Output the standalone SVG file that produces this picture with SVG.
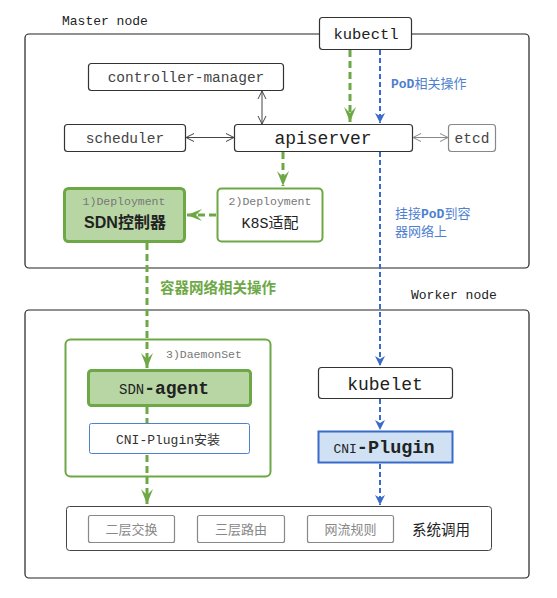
<svg xmlns="http://www.w3.org/2000/svg" width="557" height="598" viewBox="0 0 557 598">
<style>
.mono{font-family:"Liberation Mono","Noto Sans CJK SC",monospace}
.cjk{font-family:"Noto Sans CJK SC","Noto Sans",sans-serif}
.box{fill:#fff;stroke:#333;stroke-width:1.2}
.gbox{fill:#fff;stroke:#888;stroke-width:1.2}
.glabel{fill:#888;font-size:13px}
.green{stroke:#6EA846;stroke-width:3;stroke-dasharray:7 4;fill:none}
.blue{stroke:#3A6BC8;stroke-width:2;stroke-dasharray:5 3;fill:none}
.thin{stroke:#444;stroke-width:1;fill:none}
.tc{text-anchor:middle}
</style>
<defs>
<marker id="ga" markerUnits="userSpaceOnUse" viewBox="-16 -8 18 16" refX="0" refY="0" markerWidth="18" markerHeight="16" orient="auto"><path d="M0,0 L-15,-6 L-9,0 L-15,6 Z" fill="#6EA846" stroke="none"/></marker>
<marker id="ba" markerUnits="userSpaceOnUse" viewBox="-12 -7 14 14" refX="0" refY="0" markerWidth="14" markerHeight="14" orient="auto"><path d="M0,0 L-10,-5 L-7,0 L-10,5 Z" fill="#3A6BC8" stroke="none"/></marker>
<marker id="oa" markerUnits="userSpaceOnUse" viewBox="-10 -6 12 12" refX="0" refY="0" markerWidth="12" markerHeight="12" orient="auto-start-reverse"><path d="M-8,-4 L0,0 L-8,4" fill="none" stroke="#444" stroke-width="1"/></marker>
<marker id="oag" markerUnits="userSpaceOnUse" viewBox="-10 -6 12 12" refX="0" refY="0" markerWidth="12" markerHeight="12" orient="auto-start-reverse"><path d="M-8,-4 L0,0 L-8,4" fill="none" stroke="#888" stroke-width="1"/></marker>
</defs>

<g id="master-node">
<rect x="25" y="34" width="504" height="234" rx="4" fill="#fff" stroke="#222" stroke-width="1.2"/>
<text class="mono" x="62" y="25" font-size="13" fill="#222">Master node</text>
</g>
<g id="worker-node">
<rect x="25" y="310" width="504" height="268" rx="4" fill="#fff" stroke="#222" stroke-width="1.2"/>
<text class="mono" x="411" y="299" font-size="13" fill="#222">Worker node</text>
</g>

<g id="kubectl">
<rect class="box" x="319.5" y="17.5" width="92" height="32" rx="3"/>
<text class="mono tc" x="366" y="39" font-size="15.5" fill="#222">kubectl</text>
</g>
<g id="controller-manager">
<rect class="box" x="88.5" y="63.5" width="195" height="27" rx="3"/>
<text class="mono tc" x="186" y="81.5" font-size="14.5" fill="#444">controller-manager</text>
</g>
<g id="scheduler">
<rect class="box" x="64.5" y="124.5" width="121" height="27" rx="3"/>
<text class="mono tc" x="125" y="142.5" font-size="14.5" fill="#444">scheduler</text>
</g>
<g id="apiserver">
<rect class="box" x="234.5" y="124.5" width="178" height="27" rx="3"/>
<text class="mono tc" x="323" y="143.5" font-size="18" fill="#222">apiserver</text>
</g>
<g id="etcd">
<rect class="gbox" x="448.5" y="124.5" width="47" height="27" rx="3" stroke="#666"/>
<text class="mono tc" x="472" y="142.5" font-size="14.5" fill="#444">etcd</text>
</g>

<g id="sdn-controller">
<rect x="64.5" y="188.5" width="120" height="53" rx="4" fill="#B8D6A4" stroke="#6EA846" stroke-width="3"/>
<text class="mono tc" x="124" y="205" font-size="11.5" fill="#777">1)Deployment</text>
<text class="tc" x="125" y="228" font-size="16" font-weight="bold" fill="#222" font-family="Liberation Sans,Noto Sans CJK SC,sans-serif">SDN控制器</text>
</g>
<g id="k8s-adapter">
<rect x="217.5" y="188.5" width="105" height="53" rx="4" fill="#fff" stroke="#6EA846" stroke-width="2"/>
<text class="mono tc" x="270" y="205" font-size="11.5" fill="#777">2)Deployment</text>
<text class="mono tc" x="270" y="228" font-size="15" fill="#222">K8S适配</text>
</g>

<g id="daemonset">
<rect x="65.5" y="339.5" width="205" height="137" rx="5" fill="#fff" stroke="#6EA846" stroke-width="2"/>
<text class="mono" x="166" y="358" font-size="11.5" fill="#777">3)DaemonSet</text>
</g>
<g id="sdn-agent">
<rect x="88.5" y="370.5" width="162" height="35" rx="3" fill="#B8D6A4" stroke="#6EA846" stroke-width="3"/>
<text class="mono tc" x="164" y="394" fill="#222"><tspan font-size="14">SDN</tspan><tspan font-size="18" font-weight="bold">-agent</tspan></text>
</g>
<g id="cni-install">
<rect x="89.5" y="423.5" width="160" height="30" rx="2" fill="#fff" stroke="#4F7FD0" stroke-width="1"/>
<text class="mono tc" x="168" y="444" font-size="13" fill="#333">CNI-Plugin安装</text>
</g>

<g id="kubelet">
<rect class="box" x="318.5" y="367.5" width="134" height="31" rx="3"/>
<text class="mono tc" x="385" y="389.5" font-size="18" fill="#222">kubelet</text>
</g>
<g id="cni-plugin">
<rect x="318.5" y="431.5" width="134" height="31" fill="#CFE1F3" stroke="#3A6BC8" stroke-width="2"/>
<text class="mono tc" x="384" y="453" fill="#222"><tspan font-size="13">CNI</tspan><tspan font-size="18.5" font-weight="bold">-Plugin</tspan></text>
</g>

<g id="system-calls">
<rect x="66.5" y="506.5" width="425" height="44" rx="3" fill="#fff" stroke="#444" stroke-width="1"/>
<rect class="gbox" x="88.5" y="515.5" width="86" height="27" rx="2"/>
<text class="cjk tc glabel" x="131.5" y="533.5">二层交换</text>
<rect class="gbox" x="197.5" y="515.5" width="87" height="27" rx="2"/>
<text class="cjk tc glabel" x="241" y="533.5">三层路由</text>
<rect class="gbox" x="307.5" y="515.5" width="86" height="27" rx="2"/>
<text class="cjk tc glabel" x="350.5" y="533.5">网流规则</text>
<text class="cjk" x="412" y="534.5" font-size="14.5" fill="#222">系统调用</text>
</g>

<g id="connectors">
<line class="thin" x1="262" y1="91" x2="262" y2="124" marker-start="url(#oa)" marker-end="url(#oa)"/>
<line class="thin" x1="186" y1="137.5" x2="234" y2="137.5" marker-start="url(#oa)" marker-end="url(#oa)"/>
<line x1="413" y1="137.5" x2="448" y2="137.5" stroke="#888" stroke-width="1" marker-start="url(#oag)" marker-end="url(#oag)"/>

<line class="green" x1="350" y1="50" x2="350" y2="122" marker-end="url(#ga)"/>
<line class="blue" x1="380" y1="50" x2="380" y2="123" marker-end="url(#ba)"/>
<text x="391" y="88" font-size="13" fill="#4F7FD0"><tspan class="mono" font-weight="bold">PoD</tspan><tspan class="cjk">相关操作</tspan></text>

<line class="green" x1="283" y1="152" x2="283" y2="186" marker-end="url(#ga)"/>
<line class="green" x1="216" y1="215" x2="187" y2="215" marker-end="url(#ga)"/>

<line class="blue" x1="380" y1="152" x2="380" y2="366" marker-end="url(#ba)"/>
<text x="395" y="218" font-size="13" fill="#4F7FD0"><tspan class="cjk">挂接</tspan><tspan class="mono" font-weight="bold">PoD</tspan><tspan class="cjk">到容</tspan></text>
<text class="cjk" x="395" y="236" font-size="13" fill="#4F7FD0">器网络上</text>

<line class="green" x1="147" y1="243" x2="147" y2="368" marker-end="url(#ga)"/>
<text class="cjk" x="160" y="293" font-size="14.5" font-weight="bold" fill="#6EA846">容器网络相关操作</text>

<line class="green" x1="147" y1="407" x2="147" y2="423"/>
<line class="green" x1="147" y1="455" x2="147" y2="504" marker-end="url(#ga)"/>

<line class="blue" x1="380" y1="399" x2="380" y2="430" marker-end="url(#ba)"/>
<line class="blue" x1="380" y1="464" x2="380" y2="505" marker-end="url(#ba)"/>
</g>
</svg>
